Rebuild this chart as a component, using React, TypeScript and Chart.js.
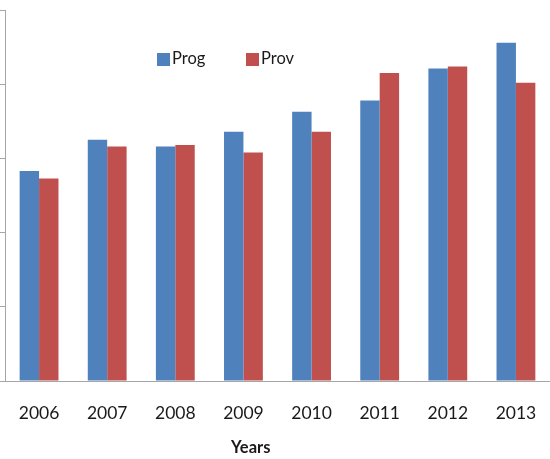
import React, { useEffect, useRef } from "react";
import { Chart, registerables } from "chart.js";

Chart.register(...registerables);

const years = ["2006", "2007", "2008", "2009", "2010", "2011", "2012", "2013"];
const progValues = [2.83, 3.25, 3.16, 3.36, 3.63, 3.78, 4.21, 4.56];
const provValues = [2.73, 3.16, 3.18, 3.08, 3.36, 4.15, 4.24, 4.02];
const yMin = 0;
const yMax = 5;
const yStep = 1;

const BLUE = "#4F81BD";
const RED = "#C0504D";
const AXIS = "#A6A6A6";
const FONT = "Lato, 'Open Sans', sans-serif";

export default function App() {
  const ref = useRef<HTMLCanvasElement | null>(null);

  useEffect(() => {
    if (!ref.current) return;
    const chart = new Chart(ref.current, {
      type: "bar",
      data: {
        labels: years,
        datasets: [
          { label: "Prog", data: progValues, backgroundColor: BLUE, borderWidth: 0 },
          { label: "Prov", data: provValues, backgroundColor: RED, borderWidth: 0 },
        ],
      },
      options: {
        responsive: false,
        animation: false,
        layout: { padding: { top: 10, bottom: 35, left: 0, right: 0 } },
        plugins: { legend: { display: false }, tooltip: { enabled: false } },
        datasets: { bar: { categoryPercentage: 0.57, barPercentage: 1 } },
        scales: {
          x: {
            grid: {
              display: true,
              drawOnChartArea: false,
              drawTicks: true,
              tickLength: 22,
              tickColor: "rgba(0,0,0,0)",
            },
            border: { display: true, color: AXIS, width: 1 },
            ticks: {
              color: "#1a1a1a",
              padding: 0,
              maxRotation: 0,
              font: { family: FONT, size: 17.5 },
            },
          },
          y: {
            min: yMin,
            max: yMax,
            grid: { display: true, drawOnChartArea: false, drawTicks: true, tickLength: 5, color: AXIS },
            border: { display: true, color: AXIS, width: 1 },
            ticks: { display: false, stepSize: yStep },
          },
        },
      },
    });
    return () => chart.destroy();
  }, []);

  const legendText: React.CSSProperties = {
    position: "absolute",
    fontFamily: FONT,
    fontSize: 16.5,
    color: "#1a1a1a",
    lineHeight: "18px",
    top: 49,
    whiteSpace: "nowrap",
  };

  return (
    <div style={{ position: "absolute", left: 0, top: 0, width: 550, height: 459, background: "#fff", overflow: "hidden" }}>
      <canvas ref={ref} width={550} height={459} style={{ display: "block" }} />
      <div style={{ position: "absolute", left: 157, top: 53, width: 13, height: 13, background: BLUE }} />
      <div style={{ ...legendText, left: 172 }}>Prog</div>
      <div style={{ position: "absolute", left: 246, top: 53, width: 13, height: 13, background: RED }} />
      <div style={{ ...legendText, left: 261 }}>Prov</div>
      <div
        style={{
          position: "absolute",
          left: 231,
          top: 437,
          fontFamily: FONT,
          fontSize: 16.5,
          fontWeight: "bold",
          color: "#1a1a1a",
          lineHeight: "20px",
          whiteSpace: "nowrap",
        }}
      >
        Years
      </div>
    </div>
  );
}
